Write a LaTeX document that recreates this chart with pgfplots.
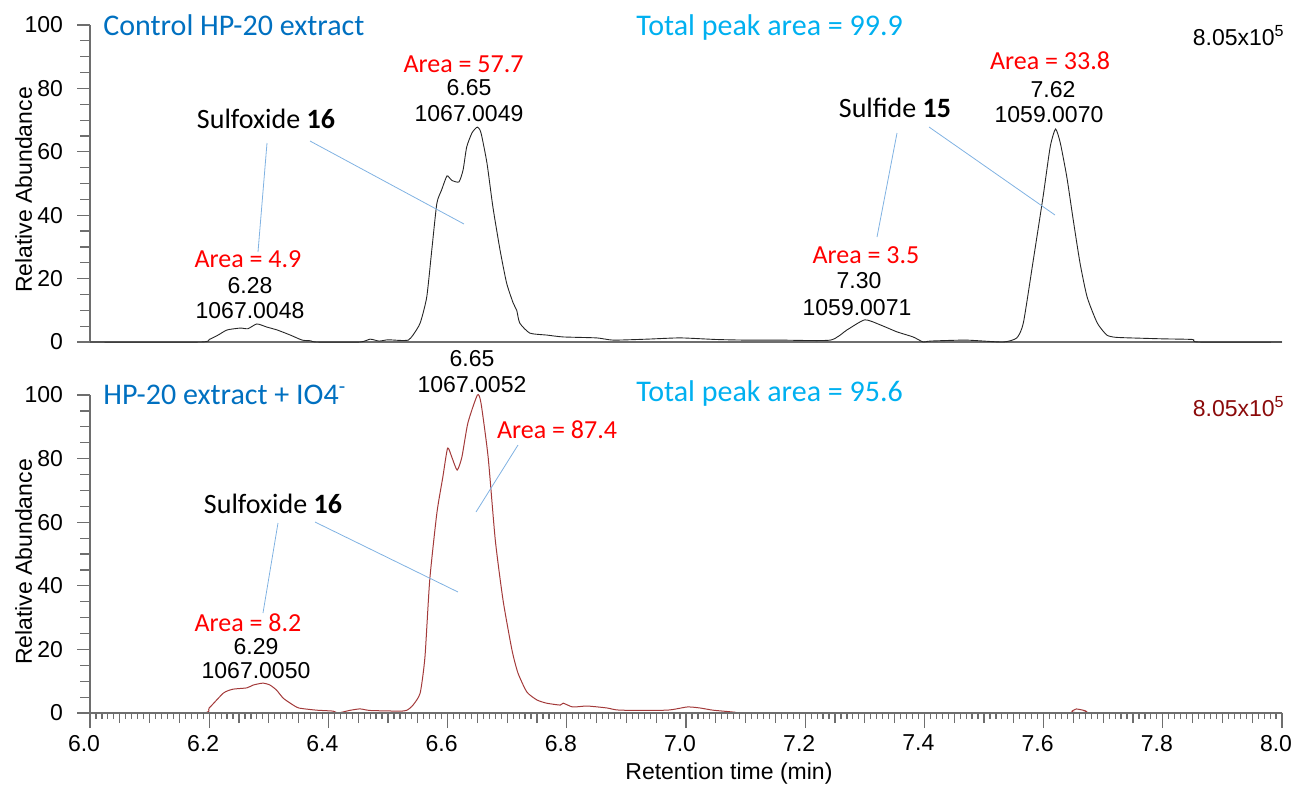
\documentclass[border=0pt]{standalone}
\usepackage{fontspec}
\setmainfont{Liberation Sans}
\newfontfamily\calibri{Carlito}
\usepackage{pgfplots}
\pgfplotsset{compat=1.18}

\definecolor{titleblue}{HTML}{0070C0}
\definecolor{areablue}{HTML}{00B0F0}
\definecolor{callout}{HTML}{80B2E2}
\definecolor{trace2}{HTML}{A33A3A}
\definecolor{scale2}{HTML}{8B0A0A}
\definecolor{axisgray}{HTML}{6E6E6E}

% chromatogram traces (retention time in min, relative abundance)
\pgfplotstableread{
t y
6.000 0
6.185 0
6.200 0.8
6.215 2.2
6.230 3.8
6.252 4.4
6.265 4.2
6.280 5.7
6.297 4.7
6.314 3.8
6.336 2.2
6.356 0.6
6.370 0.4
6.380 0
6.453 0
6.470 0.9
6.485 0.3
6.500 0.7
6.520 0.5
6.534 0.6
6.542 2.2
6.554 6.0
6.565 14.2
6.574 30.0
6.582 43.8
6.590 48.0
6.599 52.4
6.607 51.0
6.619 50.5
6.626 54.3
6.632 61.5
6.641 66.0
6.650 67.8
6.656 66.0
6.666 56.5
6.676 42.6
6.688 29.0
6.699 18.6
6.710 12.3
6.716 10.0
6.721 6.0
6.738 2.8
6.766 2.2
6.794 1.6
6.850 1.3
6.878 0.6
6.934 0.9
6.990 1.3
7.050 0.8
7.100 0.6
7.158 0.6
7.242 0.6
7.270 3.8
7.300 7.0
7.326 5.4
7.354 3.2
7.381 1.6
7.398 0
7.410 0.3
7.470 0.6
7.532 0
7.555 1.3
7.566 6.0
7.582 25.0
7.599 45.7
7.611 61.5
7.620 67.2
7.628 62.8
7.639 52.0
7.649 39.4
7.661 25.0
7.673 14.2
7.690 6.0
7.706 2.2
7.720 1.5
7.745 1.3
7.800 1.0
7.850 0.8
7.860 0
8.000 0
}\controltrace

\pgfplotstableread{
t y
6.000 0
6.187 0
6.200 1.6
6.224 6.3
6.240 7.5
6.263 7.9
6.274 8.8
6.290 9.4
6.302 8.8
6.313 7.2
6.324 4.7
6.336 3.1
6.350 1.6
6.380 0.9
6.408 0.6
6.416 0
6.435 0.8
6.453 1.3
6.470 0.8
6.520 0.6
6.532 0.9
6.542 2.5
6.554 6.3
6.562 17.6
6.570 41.8
6.582 62.9
6.592 74.2
6.600 83.3
6.607 80.5
6.616 76.4
6.624 80.5
6.634 91.2
6.650 100
6.656 97.5
6.668 80.5
6.680 54.4
6.693 35.5
6.708 19.8
6.718 12.6
6.733 6.6
6.750 4.1
6.766 3.1
6.789 2.5
6.794 3.1
6.810 1.9
6.834 2.2
6.867 1.6
6.889 0.9
6.968 0.9
7.002 1.9
7.023 1.6
7.045 0.9
7.079 0.3
7.085 0
7.645 0
7.655 1.3
7.665 0
8.000 0
}\periodatetrace

\pgfplotsset{
  chrom/.style={
    scale only axis, width=596pt,
    xmin=6, xmax=8, ymin=0, ymax=100,
    axis x line*=bottom, axis y line*=left,
    axis line style={axisgray, line width=0.7pt, -},
    every tick/.style={axisgray, line width=0.6pt},
    tick align=outside,
    xtick=\empty,
    ytick={0,20,...,100}, minor y tick num=3,
    major tick length=6.5pt, minor tick length=5pt,
    yticklabel style={font=\fontsize{11.5}{13}\selectfont, xshift=-3.5pt},
    /pgf/number format/assume math mode=true,
    clip=false,
  },
  xticks/.style={
    scale only axis, width=596pt, height=159pt,
    xmin=6, xmax=8, ymin=0, ymax=100,
    axis x line*=bottom, hide y axis,
    axis line style={axisgray, line width=0.7pt, -},
    every tick/.style={axisgray, line width=0.6pt},
    tick align=outside,
    /pgf/number format/assume math mode=true,
  },
}

\begin{document}
\begin{tikzpicture}
\path[use as bounding box] (0,0) rectangle (647pt,-392pt);

% upper trace: control extract
\begin{axis}[chrom, at={(45pt,-171pt)}, anchor=south west, height=158.5pt]
  \addplot[black!85, line width=0.45pt, smooth, tension=0.35] table[x=t, y=y] {\controltrace};
\end{axis}

% lower trace: extract after periodate
\begin{axis}[chrom, at={(45pt,-356.5pt)}, anchor=south west, height=159pt]
  \addplot[trace2, line width=0.5pt, smooth, tension=0.35] table[x=t, y=y] {\periodatetrace};
\end{axis}

% time axis: fine and medium ticks
\begin{axis}[xticks, at={(45pt,-356.5pt)}, anchor=south west,
  xtick={6,6.2,...,8.01}, xticklabels={},
  minor x tick num=19, major tick length=0pt, minor tick length=3pt]
\end{axis}
\begin{axis}[xticks, at={(45pt,-356.5pt)}, anchor=south west,
  xtick={6,6.2,...,8.01}, minor x tick num=3,
  major tick length=7.5pt, minor tick length=5pt,
  xticklabel style={font=\fontsize{11.5}{13}\selectfont, xshift=-3pt},
  xticklabel={\pgfmathprintnumber[fixed, fixed zerofill, precision=1]{\tick}}]
\end{axis}

\begin{scope}[every node/.style={inner sep=0pt}]
% axis titles
\node[rotate=90, anchor=base, font=\fontsize{11.5}{13}\selectfont] at (16pt,-95pt) {Relative Abundance};
\node[rotate=90, anchor=base, font=\fontsize{11.5}{13}\selectfont] at (16pt,-281pt) {Relative Abundance};
\node[anchor=base west, font=\fontsize{11.5}{13}\selectfont] at (312.5pt,-389.5pt) {Retention time (min)};

% upper panel text
\node[anchor=base west, text=titleblue, font=\calibri\fontsize{15}{18}\selectfont] at (51.5pt,-17.5pt) {Control HP-20 extract};
\node[anchor=base west, text=areablue, font=\calibri\fontsize{15}{18}\selectfont] at (318pt,-17.5pt) {Total peak area = 99.9};
\node[anchor=base east, font=\fontsize{11.5}{13}\selectfont] at (642.5pt,-22.5pt) {8.05x10\textsuperscript{5}};

\node[anchor=base, text=red, font=\calibri\fontsize{13}{15}\selectfont] at (231.75pt,-36pt) {Area = 57.7};
\node[anchor=base, font=\fontsize{11.5}{13}\selectfont] at (234.5pt,-47.5pt) {6.65};
\node[anchor=base, font=\fontsize{11.5}{13}\selectfont] at (234.5pt,-60.5pt) {1067.0049};

\node[anchor=base, font=\calibri\fontsize{14}{16}\selectfont] at (133pt,-64pt) {Sulfoxide \textbf{16}};
\draw[callout, line width=0.4pt] (133.5pt,-71.5pt) -- (129pt,-126pt);
\draw[callout, line width=0.4pt] (155pt,-70.5pt) -- (232pt,-112pt);

\node[anchor=base, text=red, font=\calibri\fontsize{13}{15}\selectfont] at (124pt,-133.5pt) {Area = 4.9};
\node[anchor=base, font=\fontsize{11.5}{13}\selectfont] at (125pt,-146.5pt) {6.28};
\node[anchor=base, font=\fontsize{11.5}{13}\selectfont] at (125pt,-159pt) {1067.0048};

\node[anchor=base, font=\calibri\fontsize{14}{16}\selectfont] at (447.5pt,-58.5pt) {Sulfide \textbf{15}};
\draw[callout, line width=0.4pt] (448.5pt,-66.5pt) -- (438.5pt,-118.5pt);
\draw[callout, line width=0.4pt] (464.5pt,-63.5pt) -- (527.5pt,-107.5pt);

\node[anchor=base, text=red, font=\calibri\fontsize{13}{15}\selectfont] at (525pt,-34.5pt) {Area = 33.8};
\node[anchor=base, font=\fontsize{11.5}{13}\selectfont] at (526.5pt,-48.5pt) {7.62};
\node[anchor=base, font=\fontsize{11.5}{13}\selectfont] at (524.5pt,-61pt) {1059.0070};

\node[anchor=base, text=red, font=\calibri\fontsize{13}{15}\selectfont] at (433pt,-131.5pt) {Area = 3.5};
\node[anchor=base, font=\fontsize{11.5}{13}\selectfont] at (429.5pt,-144pt) {7.30};
\node[anchor=base, font=\fontsize{11.5}{13}\selectfont] at (428.5pt,-157.5pt) {1059.0071};

% lower panel text
\node[anchor=base west, text=titleblue, font=\calibri\fontsize{15}{18}\selectfont] at (51.5pt,-202pt) {HP-20 extract + IO4\textsuperscript{-}};
\node[anchor=base west, text=areablue, font=\calibri\fontsize{15}{18}\selectfont] at (318pt,-200.5pt) {Total peak area = 95.6};
\node[anchor=base east, text=scale2, font=\fontsize{11.5}{13}\selectfont] at (642.5pt,-208pt) {8.05x10\textsuperscript{5}};

\node[anchor=base, font=\fontsize{11.5}{13}\selectfont] at (236pt,-183pt) {6.65};
\node[anchor=base, font=\fontsize{11.5}{13}\selectfont] at (236pt,-196pt) {1067.0052};
\node[anchor=base, text=red, font=\calibri\fontsize{13}{15}\selectfont] at (278.5pt,-219pt) {Area = 87.4};
\draw[callout, line width=0.4pt] (259pt,-222.5pt) -- (238pt,-256pt);

\node[anchor=base, font=\calibri\fontsize{14}{16}\selectfont] at (136.5pt,-256.5pt) {Sulfoxide \textbf{16}};
\draw[callout, line width=0.4pt] (139pt,-261.5pt) -- (131.5pt,-306.5pt);
\draw[callout, line width=0.4pt] (157.5pt,-261pt) -- (229pt,-296pt);

\node[anchor=base, text=red, font=\calibri\fontsize{13}{15}\selectfont] at (124pt,-315.5pt) {Area = 8.2};
\node[anchor=base, font=\fontsize{11.5}{13}\selectfont] at (128pt,-327pt) {6.29};
\node[anchor=base, font=\fontsize{11.5}{13}\selectfont] at (128pt,-339pt) {1067.0050};
\end{scope}
\end{tikzpicture}
\end{document}
